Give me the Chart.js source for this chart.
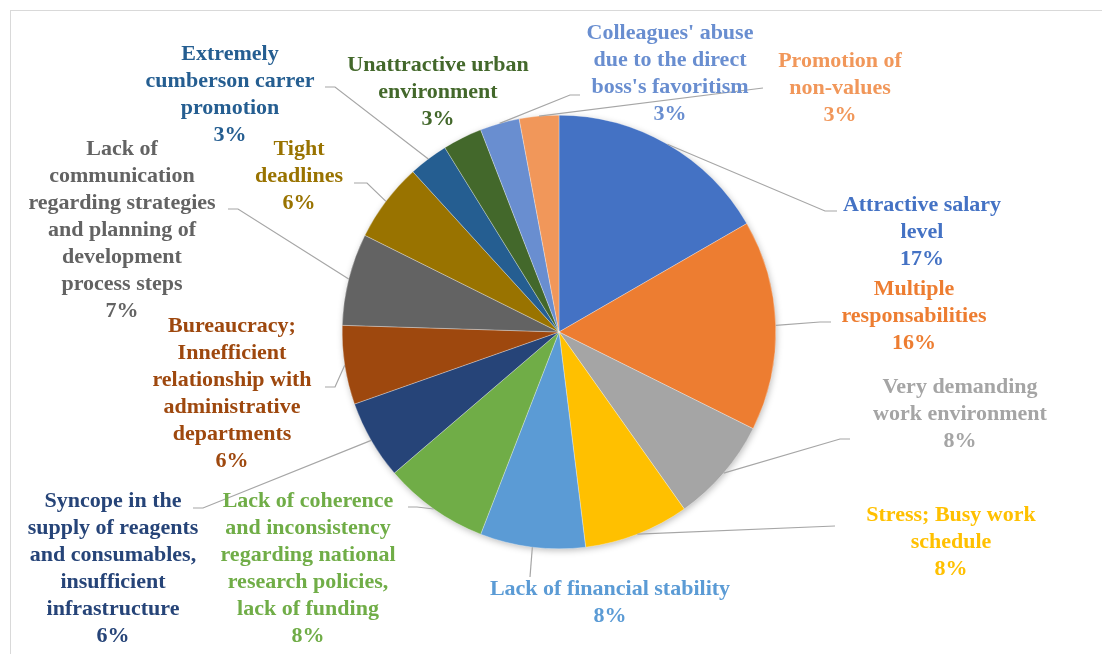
<!DOCTYPE html>
<html>
<head>
<meta charset="utf-8">
<script src="https://cdn.jsdelivr.net/npm/chart.js@4.4.1/dist/chart.umd.min.js"></script>
<style>
  html, body { margin: 0; padding: 0; background: #fff; overflow: hidden; }
  #wrap { position: relative; width: 1102px; height: 654px; }
  #frame {
    position: absolute; left: 10px; top: 10px; width: 1200px; height: 800px;
    border-left: 1px solid #d9d9d9; border-top: 1px solid #d9d9d9;
  }
  canvas { position: absolute; left: 0; top: 0; }
</style>
</head>
<body>
<div id="wrap">
  <div id="frame"></div>
  <canvas id="pie" width="1102" height="654"></canvas>
</div>

<script>
  // Categories (one entry per label line) and shares in percent
  const categories = [
    ["Attractive salary", "level"],
    ["Multiple", "responsabilities"],
    ["Very demanding", "work environment"],
    ["Stress; Busy work", "schedule"],
    ["Lack of financial stability"],
    ["Lack of coherence", "and inconsistency", "regarding national", "research policies,", "lack of funding"],
    ["Syncope in the", "supply of reagents", "and consumables,", "insufficient", "infrastructure"],
    ["Bureaucracy;", "Innefficient", "relationship with", "administrative", "departments"],
    ["Lack of", "communication", "regarding strategies", "and planning of", "development", "process steps"],
    ["Tight", "deadlines"],
    ["Extremely", "cumberson carrer", "promotion"],
    ["Unattractive urban", "environment"],
    ["Colleagues' abuse", "due to the direct", "boss's favoritism"],
    ["Promotion of", "non-values"],
  ];
  const shares = [17, 16, 8, 8, 8, 8, 6, 6, 7, 6, 3, 3, 3, 3];

  const sliceColors = [
    "#4472C4", "#ED7D31", "#A5A5A5", "#FFC000", "#5B9BD5", "#70AD47", "#264478",
    "#9E480E", "#636363", "#997300", "#255E91", "#43682B", "#698ED0", "#F1975A",
  ];

  // where each label sits (centre x, first line y) and the bends of its leader line
  const labelLayout = [
    { x: 922, y: 205, leader: [[825, 211], [837, 211]] },
    { x: 914, y: 289, leader: [[820, 322], [831, 322]] },
    { x: 960, y: 387, leader: [[840, 439], [850, 439]] },
    { x: 951, y: 515, leader: [[835, 526]] },
    { x: 610, y: 589, leader: [[530, 577]] },
    { x: 308, y: 501, leader: [[417, 507], [408, 507]] },
    { x: 113, y: 501, leader: [[203, 508], [193, 508]] },
    { x: 232, y: 326, leader: [[335, 387], [325, 387]] },
    { x: 122, y: 149, leader: [[238, 209], [228, 209]] },
    { x: 299, y: 149, leader: [[367, 183], [354, 183]] },
    { x: 230, y: 54, leader: [[335, 87], [325, 87]] },
    { x: 438, y: 65, leader: null },
    { x: 670, y: 33, leader: [[570, 95], [580, 95]] },
    { x: 840, y: 61, leader: [[763, 88]] },
  ];

  const LINE_H = 27;
  const FONT = "bold 22px 'Liberation Serif', 'DejaVu Serif', serif";

  // soft shadow under the whole pie
  const pieShadow = {
    id: "pieShadow",
    beforeDatasetsDraw(chart) {
      const arc = chart.getDatasetMeta(0).data[0];
      if (!arc) return;
      const ctx = chart.ctx;
      ctx.save();
      ctx.shadowColor = "rgba(0,0,0,0.28)";
      ctx.shadowBlur = 7;
      ctx.shadowOffsetX = 1;
      ctx.shadowOffsetY = 2;
      ctx.fillStyle = "#ffffff";
      ctx.beginPath();
      ctx.arc(arc.x, arc.y, arc.outerRadius - 0.5, 0, Math.PI * 2);
      ctx.fill();
      ctx.restore();
    },
  };

  // leader lines plus category / percent labels in the slice colour
  const sliceLabels = {
    id: "sliceLabels",
    afterDatasetsDraw(chart) {
      const ctx = chart.ctx;
      const meta = chart.getDatasetMeta(0);
      const values = chart.data.datasets[0].data;

      ctx.save();
      ctx.strokeStyle = "#A6A6A6";
      ctx.lineWidth = 1.2;
      meta.data.forEach((arc, i) => {
        const lay = labelLayout[i];
        if (!lay.leader) return;
        const mid = (arc.startAngle + arc.endAngle) / 2;
        ctx.beginPath();
        ctx.moveTo(arc.x + Math.cos(mid) * arc.outerRadius, arc.y + Math.sin(mid) * arc.outerRadius);
        lay.leader.forEach(p => ctx.lineTo(p[0], p[1]));
        ctx.stroke();
      });

      ctx.font = FONT;
      ctx.textAlign = "center";
      ctx.textBaseline = "middle";
      meta.data.forEach((arc, i) => {
        const lay = labelLayout[i];
        const lines = chart.data.labels[i].concat([values[i] + "%"]);
        ctx.fillStyle = sliceColors[i];
        lines.forEach((t, k) => ctx.fillText(t, lay.x, lay.y + k * LINE_H));
      });
      ctx.restore();
    },
  };

  new Chart(document.getElementById("pie"), {
    type: "pie",
    data: {
      labels: categories,
      datasets: [{
        data: shares,
        backgroundColor: sliceColors,
        borderColor: "#ffffff",
        borderWidth: 0.3,
      }],
    },
    options: {
      responsive: false,
      animation: false,
      layout: { padding: { left: 342, right: 326, top: 115, bottom: 105 } },
      plugins: {
        legend: { display: false },
        tooltip: { enabled: false },
      },
    },
    plugins: [pieShadow, sliceLabels],
  });
</script>
</body>
</html>
